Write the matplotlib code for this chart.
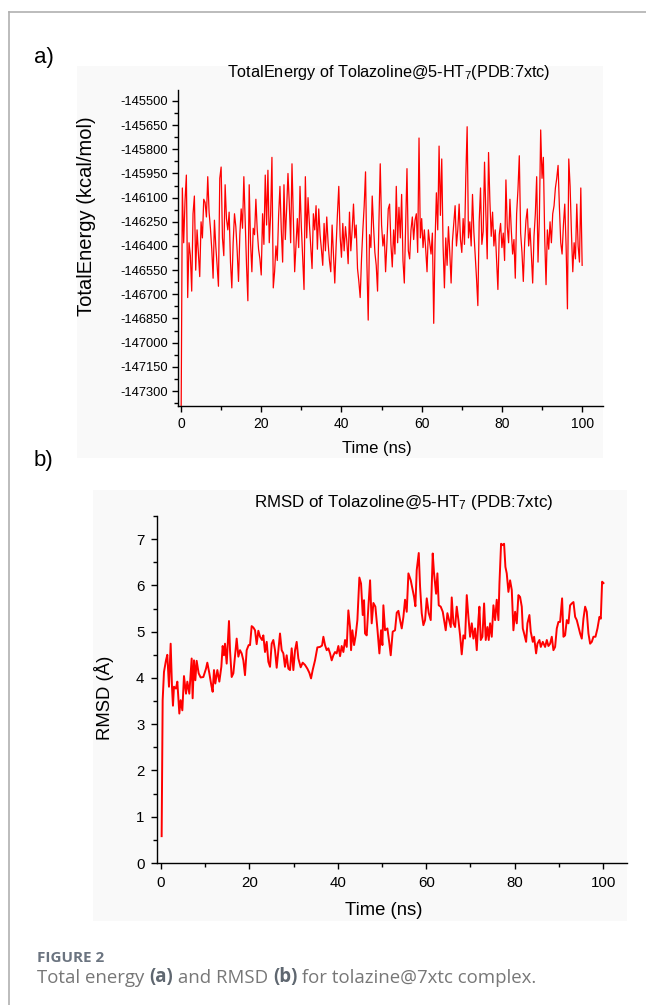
import numpy as np
import matplotlib
matplotlib.use("Agg")
import matplotlib.pyplot as plt
from matplotlib.patches import Rectangle
from matplotlib.lines import Line2D
from matplotlib.ticker import MultipleLocator

plt.rcParams['font.family'] = ['Liberation Sans', 'DejaVu Sans']
plt.rcParams['axes.unicode_minus'] = False
plt.rcParams['mathtext.fontset'] = 'custom'
plt.rcParams['mathtext.rm'] = 'Liberation Sans'
plt.rcParams['mathtext.it'] = 'Liberation Sans:italic'

# ---- panel a: total energy (kcal/mol), sampled every 1/3 ns ----
energy = [
    -147600, -146040, -146380, -146120, -145960, -146720, -146380, -146460, -146680, -146200,
    -146090, -146550, -146300, -146440, -146590, -146250, -146350, -146110, -146130, -146220,
    -145970, -146190, -146290, -146420, -146600, -146240, -146400, -146520, -146650, -145980,
    -145910, -146350, -146460, -146020, -146230, -146300, -146190, -146500, -146660, -146380,
    -146200, -146280, -146430, -146620, -146330, -146170, -146290, -145970, -146250, -146520,
    -146740, -146020, -146380, -146560, -146290, -146330, -146110, -146300, -146420, -146480,
    -146580, -146200, -146390, -145960, -146270, -145930, -146380, -146210, -145850, -146660,
    -146560, -146400, -146490, -146210, -146030, -146300, -146500, -146020, -146360, -146170,
    -145950, -146140, -146380, -145890, -146220, -146560, -146400, -146230, -146410, -146030,
    -146280, -146480, -146670, -145970, -146350, -146100, -146260, -146400, -146540, -146200,
    -146300, -146150, -146420, -146170, -146330, -146420, -146520, -146260, -146430, -146220,
    -146380, -146490, -146560, -146270, -146450, -146630, -146400, -146200, -146030, -146340,
    -146470, -146260, -146430, -146280, -146370, -146510, -146190, -146430, -146300, -146140,
    -146350, -146270, -146540, -146620, -146720, -146480, -146300, -146150, -145940, -146500,
    -146860, -146330, -146410, -146090, -146280, -146440, -146520, -146680, -146260, -145890,
    -146270, -146400, -146330, -146560, -146380, -146170, -146140, -146390, -146530, -146300,
    -146450, -146030, -146380, -146160, -146350, -146080, -146490, -146630, -146270, -145920,
    -146430, -146480, -146300, -146220, -146360, -146240,
    -146200, -146440, -145730, -146350, -146230,
    -146410, -146300, -146420, -146560, -146300, -146380, -146450, -146320, -146880,
    -146380, -146070, -146300, -145780, -146210, -145860, -146400, -146660, -146350,
    -146520, -146280, -146440, -146630, -146370, -146260, -146150, -146400, -146300,
    -146140, -146360, -146440, -146230, -146390, -145970, -145660, -146350, -146250,
    -146400, -146080, -146310, -146450, -146600, -146770, -146250, -146040, -146390,
    -146310, -145880, -146200, -146480, -145820, -146120, -146340, -146190, -146400,
    -146300, -146490, -146670, -146330, -146260, -146410, -146320, -146490, -145990,
    -146280, -146380, -146110, -146300, -146450, -146360, -146600, -146200, -146050,
    -145840, -146320, -146440, -146620, -146380, -146240, -146170, -146400, -146290,
    -146450, -146630, -146340, -146200, -145970, -146500, -146230, -145680, -145980,
    -145850, -146350, -146640, -146300, -146420, -146250, -146380, -146200, -146150,
    -146040, -145980, -145900, -146160, -146380, -146450, -146270, -146140, -146400,
    -146790, -145860, -146030, -146320, -146560, -146380, -146480, -146140, -146400,
    -146500, -146040, -146520,
]
energy_time = np.linspace(0, 100, len(energy))
energy_ticks = [-145500, -145650, -145800, -145950, -146100, -146250, -146400,
                -146550, -146700, -146850, -147000, -147150, -147300]

# ---- panel b: RMSD (Angstrom) ----
rmsd_time = [
    0.15, 0.38, 0.68, 1.13, 1.43, 1.81, 2.19, 2.49, 2.71, 2.94, 3.39, 3.70, 4.15, 4.45, 4.83,
    5.20, 5.66, 5.96, 6.41, 6.94, 7.16, 7.47, 7.77, 8.07, 8.52, 8.97, 9.58, 10.18, 10.48, 10.94,
    11.39, 11.69, 11.99, 12.29, 12.75, 13.20, 13.65, 13.95, 14.25, 14.48, 14.86, 15.38, 15.61,
    15.99, 16.37, 16.74, 17.12, 17.50, 17.87, 18.25, 18.63, 19.00, 19.38, 19.83, 20.14, 20.51,
    20.89, 21.27, 21.64, 22.02, 22.40, 22.85, 23.15, 23.53, 23.91, 24.28, 24.66, 25.04, 25.41,
    25.79, 26.17, 26.55, 26.92, 27.30, 27.68, 28.05, 28.43, 28.81, 29.19, 29.56, 29.94, 30.32,
    30.69, 31.07, 31.60, 32.05, 32.58, 33.11, 33.56, 33.94, 34.31, 34.84, 35.37, 35.97, 36.43,
    36.73, 37.10, 37.48, 37.86, 38.24, 38.61, 38.99, 39.37, 39.74, 40.12, 40.50, 40.87, 41.25,
    41.63, 42.01, 42.38, 42.76, 42.99, 43.29, 43.67, 44.04, 44.42, 44.87, 45.25, 45.63, 45.93,
    46.15, 46.53, 46.91, 47.29, 47.66, 48.04, 48.49, 48.94, 49.40, 49.77, 50.08, 50.30, 50.68,
    51.21, 51.66, 51.96, 52.41, 52.94, 53.32, 53.70, 54.07, 54.45, 54.83, 55.20, 55.58, 55.96,
    56.49, 56.94, 57.24, 57.54, 57.84, 58.30, 58.60, 58.97, 59.35, 59.73, 60.11, 60.56, 61.01,
    61.46, 61.76, 62.22, 62.52, 62.82, 63.27, 63.73, 64.03, 64.40, 64.78, 65.16, 65.54, 65.76,
    66.14, 66.52, 66.89, 67.27, 67.65, 68.02, 68.40, 68.78, 69.16, 69.53, 69.91, 70.29, 70.66,
    71.04, 71.42, 71.79, 72.02, 72.32, 72.70, 73.08, 73.45, 73.83, 74.13, 74.43, 74.81, 75.19,
    75.57, 75.94, 76.32, 76.55, 76.92, 77.30, 77.60, 77.90, 78.20, 78.58, 78.96, 79.34, 79.71,
    80.09, 80.47, 80.84, 81.22, 81.60, 81.83, 82.13, 82.58, 82.88, 83.33, 83.63, 84.09, 84.39,
    84.84, 85.14, 85.60, 85.90, 86.35, 86.88, 87.26, 87.63, 88.01, 88.39, 88.76, 89.14, 89.52,
    89.89, 90.27, 90.72, 91.03, 91.40, 91.78, 92.16, 92.53, 92.91, 93.29, 93.67, 94.04, 94.42,
    94.80, 95.17, 95.55, 95.93, 96.30, 96.68, 97.06, 97.44, 97.81, 98.27, 98.72, 99.17, 99.47,
    99.77, 100.08,
]
rmsd = [
    0.58, 3.52, 4.13, 4.38, 4.50, 3.81, 4.74, 3.81, 3.40, 3.81, 3.77, 3.92, 3.23, 3.52, 3.30,
    4.04, 3.66, 3.92, 3.66, 4.42, 3.56, 4.38, 3.95, 4.37, 4.10, 4.01, 4.02, 4.20, 4.33, 4.10,
    3.84, 3.70, 4.17, 3.88, 4.17, 3.92, 4.24, 4.69, 4.49, 4.74, 4.31, 5.23, 4.60,
    4.02, 4.10, 4.46, 4.85, 4.46, 4.60, 4.53, 4.38, 4.06, 4.60, 4.71, 4.71, 5.12,
    5.09, 5.03, 4.73, 5.02, 4.89, 4.82, 4.92, 4.56, 4.78, 4.35, 4.24, 4.74, 4.82,
    4.60, 4.22, 4.60, 4.96, 4.60, 4.53, 4.24, 4.49, 4.20, 4.17, 4.64, 4.17, 4.60,
    4.78, 4.42, 4.23, 4.33, 4.28, 4.20, 4.11, 3.99, 4.17, 4.38, 4.66, 4.67, 4.70,
    4.89, 4.71, 4.60, 4.64, 4.53, 4.38, 4.49, 4.56, 4.53, 4.69, 4.47, 4.69, 4.56,
    4.82, 4.67, 5.46, 5.10, 4.60, 5.03, 4.71, 4.92, 5.25, 6.17, 6.04, 5.36, 5.68,
    4.96, 4.92, 5.54, 6.11, 5.18, 5.62, 5.54, 5.07, 4.53, 5.03, 4.71, 5.57, 5.03,
    5.07, 4.74, 4.49, 5.00, 5.03, 5.41, 5.45, 5.25, 5.07, 5.32, 5.69, 5.43, 6.26,
    6.11, 5.90, 5.75, 5.55, 6.33, 6.70, 5.97, 5.40, 5.14, 5.25, 5.72, 5.40, 5.25,
    6.69, 6.26, 5.82, 6.26, 5.57, 5.54, 5.43, 5.25, 5.03, 5.40, 5.25, 5.10, 5.74,
    5.18, 5.10, 5.54, 5.25, 4.92, 4.51, 4.92, 4.85, 5.79, 5.32, 4.89, 5.18, 4.85,
    5.07, 4.60, 5.25, 5.54, 4.82, 4.89, 5.61, 4.82, 5.10, 4.82, 5.18, 4.89, 5.57,
    5.25, 5.69, 5.25, 6.04, 6.90, 6.87, 6.90, 6.40, 6.26, 5.86, 6.11, 5.90, 5.03,
    5.43, 5.18, 5.79, 5.75, 5.54, 5.07, 4.96, 4.78, 5.18, 5.36, 5.00, 4.78, 4.89,
    4.53, 4.74, 4.82, 4.67, 4.78, 4.67, 4.82, 4.69, 4.74, 4.89, 4.60, 4.67, 5.07,
    5.21, 5.21, 5.72, 4.89, 4.92, 5.25, 5.18, 5.57, 5.61, 5.64, 5.32, 5.25, 5.10,
    4.96, 4.85, 5.28, 5.54, 5.43, 4.96, 4.74, 4.78, 4.89, 4.89, 5.07, 5.32, 5.28,
    6.08, 6.05,
]
time_ticks = [0, 20, 40, 60, 80, 100]
rmsd_ticks = [0, 1, 2, 3, 4, 5, 6, 7]

W, H = 646, 1005


def fx(px):
    return px / W


def fy(py):
    return 1 - py / H


fig = plt.figure(figsize=(W / 100, H / 100), dpi=100)

# page frame lines
fig.add_artist(Line2D([fx(9), 1], [fy(12), fy(12)], color='#b0b0b0', lw=1.2))
fig.add_artist(Line2D([fx(9), fx(9)], [fy(12), 0], color='#b0b0b0', lw=1.2))

# light panel backgrounds
fig.add_artist(Rectangle((fx(77), fy(458)), fx(603) - fx(77), fy(66) - fy(458),
                         transform=fig.transFigure, facecolor='#f9f9f9', edgecolor='none', zorder=0))
fig.add_artist(Rectangle((fx(93), fy(921)), fx(627) - fx(93), fy(490) - fy(921),
                         transform=fig.transFigure, facecolor='#f9f9f9', edgecolor='none', zorder=0))


def style_axes(ax):
    ax.set_facecolor('none')
    for s in ('top', 'right'):
        ax.spines[s].set_visible(False)
    for s in ('left', 'bottom'):
        ax.spines[s].set_linewidth(1.0)
    ax.tick_params(which='major', direction='out', length=4, width=1.0, color='black')
    ax.tick_params(which='minor', direction='out', length=3, width=1.0, color='black')


# ---- panel a ----
ax1 = fig.add_axes([fx(178), fy(406), fx(603) - fx(178), fy(90) - fy(406)])
style_axes(ax1)
ax1.plot(energy_time, energy, color='#ff0000', lw=0.9)
ax1.set_xlim(-0.75, 105.2)
ax1.set_ylim(-147393, -145432)
ax1.set_yticks(energy_ticks)
ax1.set_yticklabels([str(v) for v in energy_ticks])
ax1.yaxis.set_minor_locator(MultipleLocator(75))
ax1.set_xticks(time_ticks)
ax1.xaxis.set_minor_locator(MultipleLocator(10))
ax1.tick_params(axis='y', labelsize=9.3, pad=3)
ax1.tick_params(axis='x', labelsize=10, pad=4)

fig.text(fx(389), fy(73), 'TotalEnergy of Tolazoline@5-HT$_7$(PDB:7xtc)',
         ha='center', va='center', fontsize=11.7)
fig.text(fx(87), fy(216), 'TotalEnergy (kcal/mol)', rotation=90,
         ha='center', va='center', fontsize=14.5)
fig.text(fx(377), fy(448), 'Time (ns)', ha='center', va='center', fontsize=12)
fig.text(fx(34), fy(57), 'a)', ha='left', va='center', fontsize=16)

# ---- panel b ----
ax2 = fig.add_axes([fx(157), fy(863), fx(627) - fx(157), fy(516) - fy(863)])
style_axes(ax2)
ax2.plot(rmsd_time, rmsd, color='#ff0000', lw=1.4)
ax2.set_xlim(-0.9, 105.4)
ax2.set_ylim(0, 7.5)
ax2.set_yticks(rmsd_ticks)
ax2.yaxis.set_minor_locator(MultipleLocator(0.5))
ax2.set_xticks(time_ticks)
ax2.xaxis.set_minor_locator(MultipleLocator(10))
ax2.tick_params(axis='both', labelsize=10.8, pad=5)

fig.text(fx(404), fy(502), 'RMSD of Tolazoline@5-HT$_7$ (PDB:7xtc)',
         ha='center', va='center', fontsize=12.2)
fig.text(fx(104), fy(698), 'RMSD (Å)', rotation=90,
         ha='center', va='center', fontsize=13.3)
fig.text(fx(384), fy(910), 'Time (ns)', ha='center', va='center', fontsize=13.3)
fig.text(fx(34), fy(460), 'b)', ha='left', va='center', fontsize=16)

# ---- caption ----
cap = fig.add_axes([0, 0, 1, 1])
cap.axis('off')
cap.set_zorder(-1)
cap_font = ['Open Sans', 'DejaVu Sans']
cap.text(fx(37), fy(962), 'FIGURE 2', fontfamily=cap_font, fontweight='bold',
         color='#6b7480', fontsize=11, va='baseline', transform=fig.transFigure)
pieces = [('Total energy ', 'normal', '#777777'), ('(a)', 'bold', '#5f6770'),
          (' and RMSD ', 'normal', '#777777'), ('(b)', 'bold', '#5f6770'),
          (' for tolazine@7xtc complex.', 'normal', '#777777')]
prev = cap.text(fx(37), fy(983), pieces[0][0], fontfamily=cap_font, fontweight=pieces[0][1],
                color=pieces[0][2], fontsize=13.4, va='baseline', transform=fig.transFigure)
for txt, wt, col in pieces[1:]:
    prev = cap.annotate(txt, xy=(1, 0), xycoords=prev, va='bottom', ha='left',
                        fontfamily=cap_font, fontweight=wt, color=col, fontsize=13.4)

fig.savefig('out.png', dpi=100)
